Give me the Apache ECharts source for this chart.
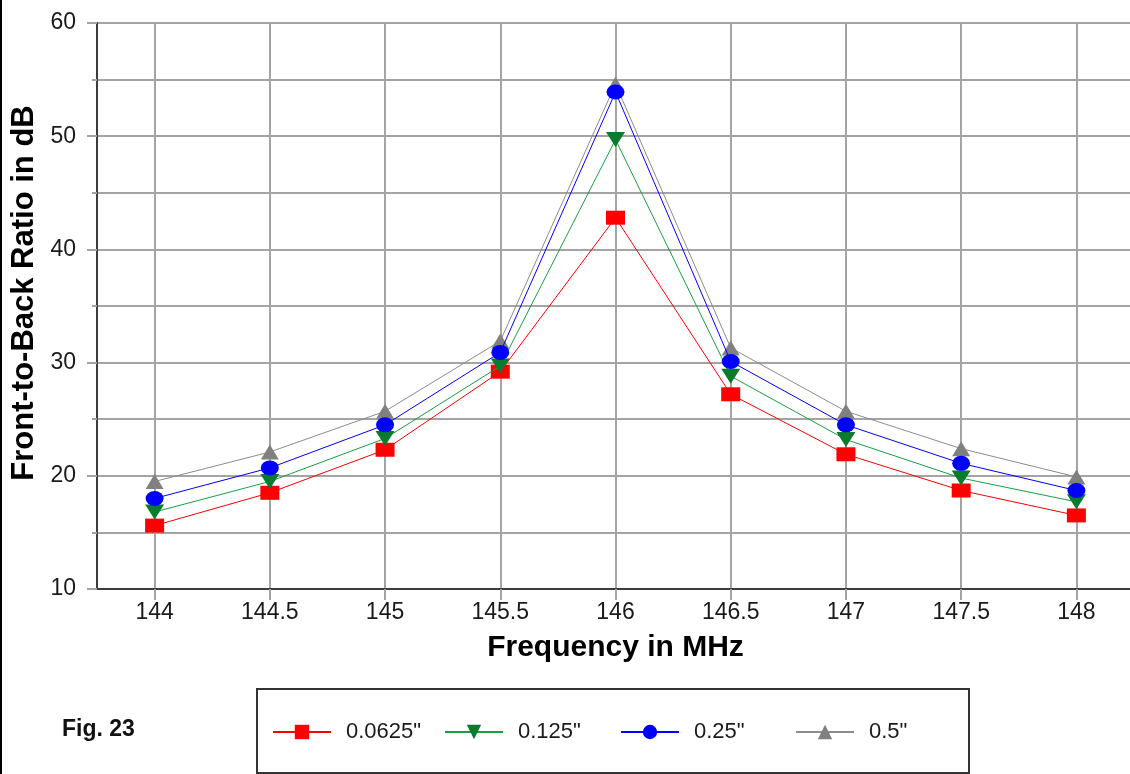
<!DOCTYPE html>
<html>
<head>
<meta charset="utf-8">
<script src="https://cdn.jsdelivr.net/npm/echarts@6/dist/echarts.min.js"></script>
<style>
  html, body { margin: 0; padding: 0; background: #fff; }
  #chart { width: 1130px; height: 774px; }
</style>
</head>
<body>
<div id="chart"></div>
<script>
// Frequency sweep (MHz) and front-to-back ratio (dB) per element diameter
const frequencies = [144, 144.5, 145, 145.5, 146, 146.5, 147, 147.5, 148];
const fb0625 = [15.6, 18.5, 22.3, 29.2, 42.8, 27.2, 21.9, 18.7, 16.5];
const fb125  = [16.8, 19.5, 23.3, 29.7, 49.7, 28.8, 23.2, 19.8, 17.7];
const fb25   = [18.0, 20.7, 24.5, 30.9, 53.9, 30.1, 24.5, 21.1, 18.7];
const fb5    = [19.5, 22.1, 25.7, 31.9, 54.6, 31.3, 25.7, 22.4, 19.9];
const seriesNames = ['0.0625"', '0.125"', '0.25"', '0.5"'];
const yTicks = [10, 20, 30, 40, 50, 60];

const pairs = vals => frequencies.map((f, i) => [f, vals[i]]);
const FONT = '"Liberation Sans", Arial, sans-serif';
const GRID = '#a4a4a4';
const AXIS = '#3c3c3c';

const chart = echarts.init(document.getElementById('chart'), null, { renderer: 'canvas' });

function lineSeries(name, vals, lineColor, markColor, symbol, size, rotate, z) {
  return {
    name, type: 'line', data: pairs(vals), z,
    symbol, symbolSize: size, symbolRotate: rotate,
    showAllSymbol: true,
    lineStyle: { color: lineColor, width: 1 },
    itemStyle: { color: markColor, borderWidth: 0 },
    emphasis: { disabled: true },
    animation: false
  };
}

function legendAt(name, left) {
  return {
    data: [name], left, top: 721, padding: 0,
    itemWidth: 58, itemHeight: 18, itemGap: 0,
    selectedMode: false,
    textStyle: { fontFamily: FONT, fontSize: 22, color: '#1a1a1a', padding: [0, 0, 0, 10] }
  };
}

chart.setOption({
  animation: false,
  backgroundColor: '#ffffff',
  grid: {
    left: 97, top: 23, width: 1037, height: 566,
    show: true, borderColor: AXIS, borderWidth: 2,
    outerBoundsMode: 'none'
  },
  xAxis: {
    type: 'value', min: 143.75, max: 148.25,
    name: 'Frequency in MHz', nameLocation: 'middle', nameGap: 44,
    nameTextStyle: { fontFamily: FONT, fontSize: 30, fontWeight: 'bold', color: '#000' },
    axisLine: { show: true, lineStyle: { color: AXIS, width: 2 } },
    axisTick: { show: true, length: 11, customValues: frequencies, lineStyle: { color: GRID, width: 2 } },
    axisLabel: { customValues: frequencies, margin: 12, fontFamily: FONT, fontSize: 23, color: '#1a1a1a',
                 formatter: v => String(v) },
    splitLine: { show: true, lineStyle: { color: GRID, width: 2 } }
  },
  yAxis: {
    type: 'value', min: yTicks[0], max: yTicks[yTicks.length - 1], interval: 10,
    name: 'Front-to-Back Ratio in dB', nameLocation: 'middle', nameGap: 57, nameRotate: 90,
    nameTextStyle: { fontFamily: FONT, fontSize: 31, fontWeight: 'bold', color: '#000',
                     padding: [0, 0, 0, 26] },
    axisLine: { show: true, lineStyle: { color: AXIS, width: 2 } },
    axisTick: { show: true, length: 10, lineStyle: { color: GRID, width: 2 } },
    minorTick: { show: true, splitNumber: 2, length: 5, lineStyle: { color: GRID, width: 2 } },
    minorSplitLine: { show: true, lineStyle: { color: GRID, width: 2 } },
    axisLabel: { margin: 21, fontFamily: FONT, fontSize: 23, color: '#1a1a1a' },
    splitLine: { show: true, lineStyle: { color: GRID, width: 2 } }
  },
  legend: [
    legendAt(seriesNames[0], 272),
    legendAt(seriesNames[1], 444),
    legendAt(seriesNames[2], 620),
    legendAt(seriesNames[3], 795)
  ],
  graphic: [
    { type: 'rect', left: 0, top: 0, shape: { x: 0, y: 0, width: 2, height: 774 }, style: { fill: '#000' }, z: 100 },
    { type: 'rect', shape: { x: 257, y: 689, width: 712, height: 84 }, style: { fill: 'none', stroke: '#333', lineWidth: 2 }, z: 50 },
    { type: 'text', left: 62, top: 718, style: { text: 'Fig. 23', font: 'bold 23px ' + FONT, fill: '#111' } }
  ],
  series: [
    lineSeries(seriesNames[0], fb0625, '#ff0000', '#ff0000', 'rect', [19, 14], 0, 3),
    lineSeries(seriesNames[1], fb125, '#18a040', '#0a7a2c', 'triangle', [19, 15], 180, 4),
    lineSeries(seriesNames[2], fb25, '#0000ff', '#0000ff', 'circle', [18, 15], 0, 5),
    lineSeries(seriesNames[3], fb5, '#8c8c8c', '#808080', 'triangle', [18, 15], 0, 2)
  ]
});
</script>
</body>
</html>
